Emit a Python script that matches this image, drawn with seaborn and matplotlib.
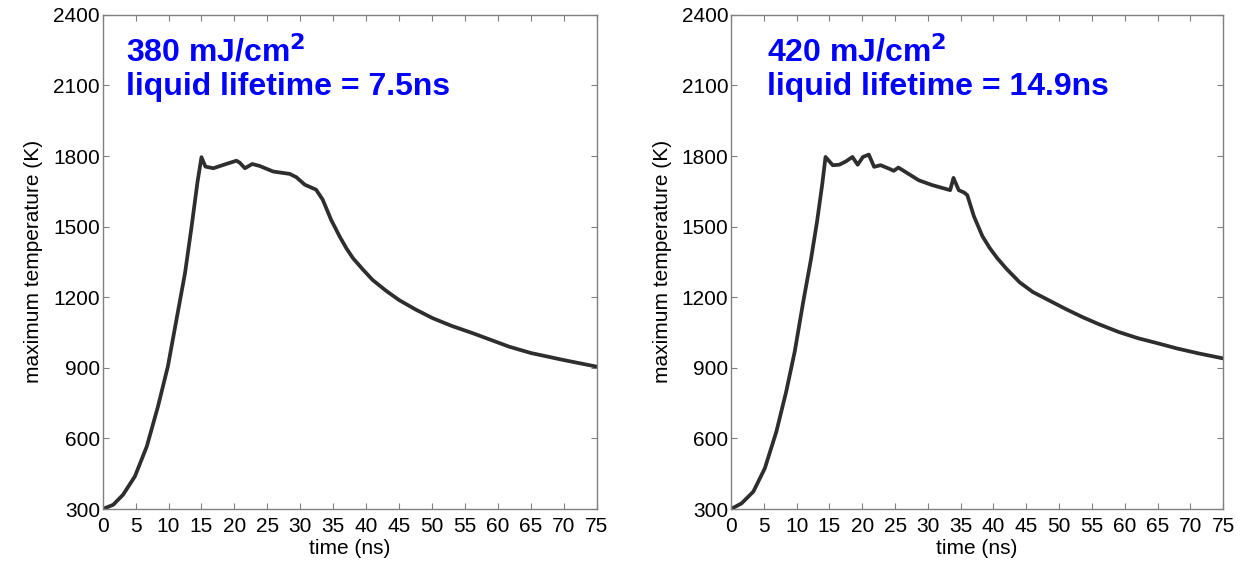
import numpy as np
import pandas as pd
import matplotlib
matplotlib.use('Agg')
import matplotlib.pyplot as plt
import seaborn as sns

# ---- data ----
t_380 = [0, 1.6, 3.1, 4.9, 6.7, 8.4, 9.9, 11.2, 12.5, 13.5, 14.4, 15.0, 15.6, 16.8, 18.3,
         20.3, 20.8, 21.6, 22.7, 23.8, 25.9, 28.4, 29.4, 30.7, 32.4, 33.4, 34.7,
         35.4, 36.0, 37.0, 38.0, 39.5, 41.0, 43.0, 45.0, 47.5, 50.1, 53.0, 56.2,
         59.0, 61.7, 65, 70, 75]
T_380 = [300, 318, 361, 439, 566, 736, 906, 1104, 1302, 1500, 1690, 1795, 1755, 1748, 1762,
         1780, 1772, 1748, 1766, 1758, 1734, 1724, 1710, 1678, 1657, 1615, 1528,
         1490, 1457, 1408, 1366, 1318, 1273, 1228, 1188, 1148, 1111, 1078, 1047,
         1018, 990, 963, 933, 905]

t_420 = [0, 1.6, 3.4, 5.15, 6.9, 8.4, 9.7, 11.0, 12.2, 13.1, 13.9, 14.4, 15.5, 16.5,
         17.5, 18.5, 19.3, 20.1, 21.0, 21.8, 22.8, 24.1, 24.8, 25.5, 26.6, 28.6,
         30.7, 33.4, 33.9, 34.7, 35.5, 36.0, 36.5, 37.0, 38.3, 39.4, 40.6, 42.0,
         44.0, 46.0, 48.5, 51.0, 53.6, 56.0, 59.1, 62.0, 65.2, 68.0, 71.3, 75]
T_420 = [300, 324, 374, 473, 628, 798, 968, 1180, 1364, 1520, 1680, 1796, 1761, 1763,
         1777, 1796, 1763, 1796, 1806, 1754, 1761, 1746, 1737, 1751, 1732, 1697,
         1676, 1655, 1707, 1655, 1645, 1634, 1590, 1545, 1460, 1410, 1365, 1320,
         1263, 1222, 1186, 1150, 1115, 1086, 1052, 1026, 1003, 982, 961, 940]

fluence = ['380', '420']
lifetime = ['7.5', '14.9']
x_ticks = list(range(0, 76, 5))
y_ticks = list(range(300, 2401, 300))

sns.set_theme(style='ticks')
plt.rcParams['font.family'] = ['Liberation Sans', 'DejaVu Sans']

fig = plt.figure(figsize=(12.49, 5.74), dpi=100)
ax1 = fig.add_axes([0.0822, 0.1132, 0.3955, 0.861])
ax2 = fig.add_axes([0.5853, 0.1132, 0.3940, 0.861])

series = [(t_380, T_380), (t_420, T_420)]
text_x = [0.048, 0.073]

for i, ax in enumerate([ax1, ax2]):
    df = pd.DataFrame({'time': series[i][0], 'temp': series[i][1]})
    sns.lineplot(data=df, x='time', y='temp', ax=ax, sort=False, estimator=None,
                 color='#2e2e2e', linewidth=2.7)
    ax.set_xlim(0, 75)
    ax.set_ylim(300, 2400)
    ax.set_xticks(x_ticks)
    ax.set_yticks(y_ticks)
    ax.tick_params(direction='in', length=4, width=0.8, color='#808080',
                   top=True, right=True, labelsize=15, labelcolor='black')
    ax.tick_params(axis='x', pad=6)
    ax.tick_params(axis='y', pad=2)
    for s in ax.spines.values():
        s.set_color('#808080')
        s.set_linewidth(1.0)
    ax.set_xlabel('time (ns)', fontsize=15, labelpad=2, color='black')
    ax.set_ylabel('maximum temperature (K)', fontsize=15, labelpad=7, color='black')
    ax.text(text_x[i], 0.905, fluence[i] + r' mJ/cm$^\mathbf{2}$', transform=ax.transAxes,
            color='#0000ff', fontsize=23, fontweight='bold')
    ax.text(text_x[i], 0.838, 'liquid lifetime = ' + lifetime[i] + 'ns',
            transform=ax.transAxes, color='#0000ff', fontsize=23, fontweight='bold')

fig.savefig('out.png', dpi=100)
